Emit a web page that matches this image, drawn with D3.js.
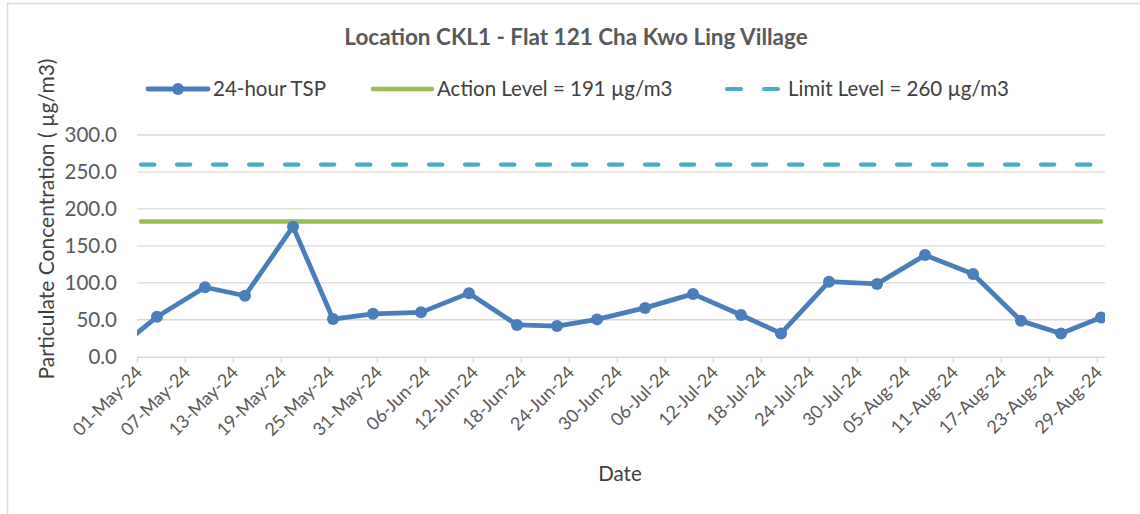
<!DOCTYPE html>
<html>
<head>
<meta charset="utf-8">
<script src="https://cdn.jsdelivr.net/npm/d3@7"></script>
<style>
  html, body { margin: 0; padding: 0; background: #fff; }
  svg { display: block; font-family: Lato, "Liberation Sans", sans-serif; }
</style>
</head>
<body>
<svg id="chart" width="1140" height="514"></svg>
<script>
// ---- data ----
const sampleDates = ["2024-04-28","2024-05-03","2024-05-09","2024-05-14","2024-05-20","2024-05-25","2024-05-30",
  "2024-06-05","2024-06-11","2024-06-17","2024-06-22","2024-06-27","2024-07-03","2024-07-09","2024-07-15",
  "2024-07-20","2024-07-26","2024-08-01","2024-08-07","2024-08-13","2024-08-19","2024-08-24","2024-08-29"];
const tspValues = [10, 54, 94, 82.5, 176, 51, 58, 60, 86, 43, 41.5, 50.5, 66, 85, 56.5, 31.5, 101.5, 98.5, 137.5, 112, 48.5, 31.5, 53];
const levelDates = ["2024-05-01","2024-08-29"];
const actionValues = [183, 183];
const limitValues = [260, 260];
const xTickLabels = ["01-May-24","07-May-24","13-May-24","19-May-24","25-May-24","31-May-24","06-Jun-24",
  "12-Jun-24","18-Jun-24","24-Jun-24","30-Jun-24","06-Jul-24","12-Jul-24","18-Jul-24","24-Jul-24",
  "30-Jul-24","05-Aug-24","11-Aug-24","17-Aug-24","23-Aug-24","29-Aug-24"];
const yTicks = [0, 50, 100, 150, 200, 250, 300];
const xDomain = ["2024-05-01","2024-08-30"];
const title = "Location CKL1 - Flat 121 Cha Kwo Ling Village";
const legendLabels = ["24-hour TSP","Action Level = 191 µg/m3","Limit Level = 260 µg/m3"];

// ---- setup ----
const svg = d3.select("#chart");
const parseISO = d3.utcParse("%Y-%m-%d");
const parseTick = d3.utcParse("%d-%b-%y");
const mid = d => d3.utcHour.offset(parseISO(d), 12);

const blue = "#4a7ebb", green = "#9bbb59", cyan = "#4bacc6";
const grid = "#d9d9d9", txt = "#595959";

const plot = {left: 137, right: 1105, top: 135, bottom: 356.7};
const x = d3.scaleUtc().domain(xDomain.map(parseISO)).range([plot.left, plot.right]);
const y = d3.scaleLinear().domain([0, 300]).range([plot.bottom, plot.top]);

// chart border
svg.append("rect").attr("x", 7.5).attr("y", 3.5).attr("width", 1200).attr("height", 600)
  .attr("fill", "none").attr("stroke", grid).attr("stroke-width", 1.5);

// title
svg.append("text").attr("x", 576).attr("y", 45).attr("text-anchor", "middle")
  .attr("font-size", 22.5).attr("font-weight", "bold").attr("fill", txt).text(title);

// gridlines
svg.append("g").selectAll("line").data(yTicks.filter(v => v > 0)).join("line")
  .attr("x1", plot.left).attr("x2", plot.right)
  .attr("y1", d => y(d)).attr("y2", d => y(d))
  .attr("stroke", grid).attr("stroke-width", 1.3);

// y axis labels
const yAxis = d3.axisLeft(y).tickValues(yTicks).tickFormat(d3.format(".1f")).tickSize(0).tickPadding(0);
const gy = svg.append("g").attr("transform", `translate(${plot.left - 20},0)`).call(yAxis);
gy.select(".domain").remove();
gy.selectAll("text").attr("font-size", 20.5).attr("fill", txt).attr("font-family", "Lato, sans-serif");

// x axis
const xAxis = d3.axisBottom(x).tickValues(xTickLabels.map(parseTick)).tickSize(6).tickFormat(d3.utcFormat("%d-%b-%y"));
const gx = svg.append("g").attr("transform", `translate(0,${plot.bottom})`).call(xAxis);
gx.select(".domain").attr("d", `M${plot.left},0.5H${plot.right}`).attr("stroke", grid).attr("stroke-width", 1.5);
gx.selectAll(".tick line").attr("stroke", grid).attr("stroke-width", 1.3);
gx.selectAll(".tick text").attr("font-size", 18).attr("fill", txt).attr("font-family", "Lato, sans-serif")
  .attr("text-anchor", "end").attr("dy", null).attr("y", 0)
  .attr("transform", "translate(6,17) rotate(-45)");

// clip
svg.append("clipPath").attr("id", "clip").append("rect")
  .attr("x", plot.left).attr("y", 0).attr("width", plot.right - plot.left).attr("height", plot.bottom + 10);

const lineGen = d3.line().x(d => x(d[0])).y(d => y(d[1]));
const series = svg.append("g").attr("clip-path", "url(#clip)");

// limit level
series.append("path").datum(levelDates.map((d, i) => [mid(d), limitValues[i]]))
  .attr("d", lineGen).attr("fill", "none").attr("stroke", cyan).attr("stroke-width", 4.2)
  .attr("stroke-linecap", "round").attr("stroke-dasharray", "13.3 22.7");
// action level
series.append("path").datum(levelDates.map((d, i) => [mid(d), actionValues[i]]))
  .attr("d", lineGen).attr("fill", "none").attr("stroke", green).attr("stroke-width", 4.5)
  .attr("stroke-linecap", "round");

// TSP
const tsp = sampleDates.map((d, i) => [mid(d), tspValues[i]]);
series.append("path").datum(tsp).attr("d", lineGen).attr("fill", "none")
  .attr("stroke", blue).attr("stroke-width", 4.8).attr("stroke-linejoin", "round");
series.selectAll("circle").data(tsp).join("circle")
  .attr("cx", d => x(d[0])).attr("cy", d => y(d[1])).attr("r", 6).attr("fill", blue);

// axis titles
svg.append("text").attr("transform", "translate(54,219) rotate(-90)").attr("text-anchor", "middle")
  .attr("font-size", 21).attr("fill", "#404040").text("Particulate Concentration ( µg/m3)");
svg.append("text").attr("x", 620).attr("y", 481).attr("text-anchor", "middle")
  .attr("font-size", 20.5).attr("fill", "#404040").text("Date");

// legend
const ly = 89;
const leg = svg.append("g");
leg.append("line").attr("x1", 148).attr("x2", 208).attr("y1", ly).attr("y2", ly)
  .attr("stroke", blue).attr("stroke-width", 4.8).attr("stroke-linecap", "round");
leg.append("circle").attr("cx", 178).attr("cy", ly).attr("r", 6).attr("fill", blue);
leg.append("line").attr("x1", 373).attr("x2", 432).attr("y1", ly).attr("y2", ly)
  .attr("stroke", green).attr("stroke-width", 4.5).attr("stroke-linecap", "round");
leg.append("line").attr("x1", 727).attr("x2", 782).attr("y1", ly).attr("y2", ly)
  .attr("stroke", cyan).attr("stroke-width", 4.2).attr("stroke-linecap", "round")
  .attr("stroke-dasharray", "14 23");
const legX = [213, 437, 788];
leg.selectAll("text").data(legendLabels).join("text")
  .attr("x", (d, i) => legX[i]).attr("y", ly + 7).attr("font-size", 20.5).attr("fill", "#404040")
  .text(d => d);
</script>
</body>
</html>
